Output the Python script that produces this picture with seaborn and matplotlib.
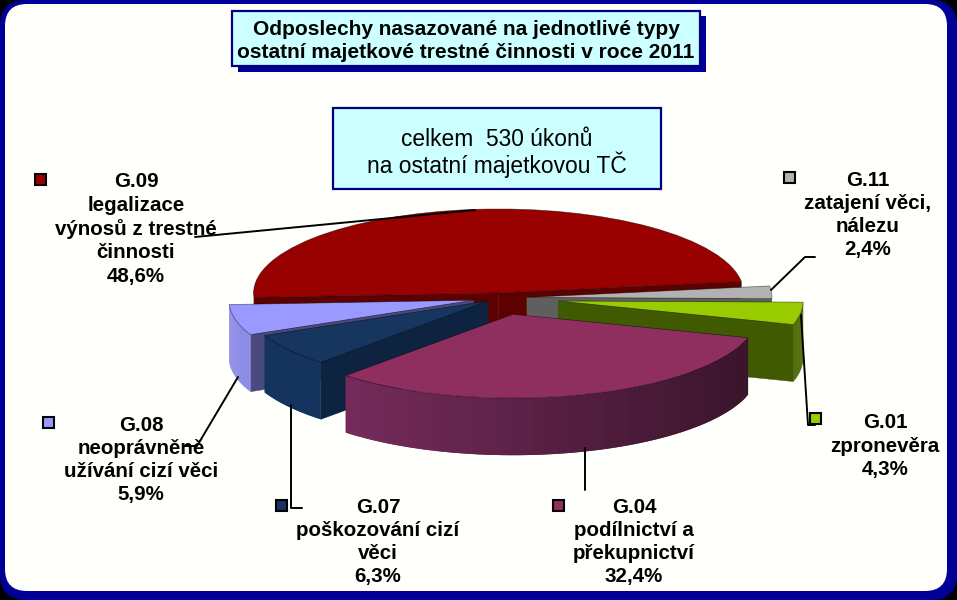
import numpy as np
import matplotlib
matplotlib.use("Agg")
import matplotlib.pyplot as plt
from matplotlib.patches import FancyBboxPatch, Rectangle
import seaborn as sns

# data
codes = ['G.09', 'G.11', 'G.01', 'G.04', 'G.07', 'G.08']
names = ['legalizace\nvýnosů z trestné\nčinnosti', 'zatajení věci,\nnálezu', 'zpronevěra',
         'podílnictví a\npřekupnictví', 'poškozování cizí\nvěci', 'neoprávněně\nužívání cizí věci']
values = [48.6, 2.4, 4.3, 32.4, 6.3, 5.9]
title_lines = 'Odposlechy nasazované na jednotlivé typy\nostatní majetkové trestné činnosti v roce 2011'
total_lines = 'celkem  530 úkonů\nna ostatní majetkovou TČ'

# styling
top_colors = ['#990000', '#b2b2b2', '#99cc00', '#8f2f60', '#16365f', '#9999ff']
cut_colors = ['#5c0000', '#5f5f5f', '#3f5a00', '#38142a', '#0e2340', '#4a4a80']
rim_light = ['#7a0000', '#8a8a8a', '#5f8000', '#802f63', '#14345e', '#8c8ce8']
rim_dark = ['#5c0000', '#6a6a6a', '#4a6500', '#38142a', '#14345e', '#8080dc']
explode = [0.06, 0.11, 0.24, 0.2, 0.06, 0.11]
draw_order = [0, 1, 2, 5, 4, 3]

# pie ellipse in pixels
cx, cy = 500, 298
rx, ry = 245, 84
depth = 57 / ry

# label layout: key square, text centre, text middle y
key_pos = [(40, 179), (789, 177), (815, 418), (558, 505), (281, 505), (48, 422)]
text_pos = [(136, 229), (868, 215), (885, 446), (634, 542), (378, 542), (141, 460)]
leaders = [[(195, 237), (475, 210)],
           [(815, 257), (805, 257), (771, 290)],
           [(801, 315), (808, 425), (815, 425)],
           [(585, 448), (585, 490)],
           [(291, 405), (291, 508), (302, 508)],
           [(238, 377), (197, 446), (185, 446)]]

sns.set_theme(style='white')
plt.rcParams['font.family'] = ['Liberation Sans', 'DejaVu Sans']

fig = plt.figure(figsize=(9.57, 6), dpi=100, facecolor='black')

# background and boxes, pixel coordinates
bg = fig.add_axes([0, 0, 1, 1], zorder=0)
bg.set_xlim(0, 957)
bg.set_ylim(600, 0)
bg.axis('off')
bg.add_patch(FancyBboxPatch((0, 0), 957, 600, boxstyle='round,pad=0,rounding_size=26',
                            fc='#000099', ec='none'))
bg.add_patch(FancyBboxPatch((5, 4), 942, 587, boxstyle='round,pad=0,rounding_size=22',
                            fc='#fffffc', ec='none'))

# exploded pie, unit circle stretched to the ellipse
ax = fig.add_axes([0, 0, 1, 1], zorder=1)
ax.patch.set_alpha(0)
wedges, _ = ax.pie(values, explode=explode, startangle=183, counterclock=False,
                   colors=sns.color_palette(top_colors), radius=1,
                   wedgeprops={'linewidth': 0.5, 'edgecolor': '#00000088'})
ax.set_aspect('auto')
ax.set_xlim(-cx / rx, (957 - cx) / rx)
ax.set_ylim((cy - 600) / ry, cy / ry)
ax.axis('off')


def draw_sides(w, k, z):
    ax0, ay0 = w.center
    t1, t2 = np.radians(w.theta1), np.radians(w.theta2)
    mid = (t1 + t2) / 2
    # flat cut faces, only those turned to the viewer
    for t in (t1, t2):
        ex, ey = np.cos(t), np.sin(t)
        nx, ny = ey, -ex
        if nx * np.cos(mid) + ny * np.sin(mid) > 0:
            ny = -ny
        if ny < 0:
            ax.fill([ax0, ax0 + ex, ax0 + ex, ax0],
                    [ay0, ay0 + ey, ay0 + ey - depth, ay0 - depth],
                    fc=cut_colors[k], ec=cut_colors[k], lw=0.3, zorder=z)
    # outer rim, in small steps for the shading, each step overlaps the next
    shades = sns.blend_palette([rim_light[k], rim_dark[k]], n_colors=40)
    steps = np.linspace(t2, t1, 60)
    for n in range(len(steps) - 1):
        a = steps[n]
        b = steps[min(n + 2, len(steps) - 1)]
        m = (steps[n] + steps[n + 1]) / 2
        if np.sin(m) >= 0:
            continue
        s = shades[int((np.cos(m) + 1) / 2 * 39)]
        arc = np.linspace(a, b, 4)
        ax.fill(np.r_[ax0 + np.cos(arc), ax0 + np.cos(arc[::-1])],
                np.r_[ay0 + np.sin(arc), ay0 + np.sin(arc[::-1]) - depth],
                fc=s, ec='none', zorder=z + 0.1 + n * 0.001)


for order, k in enumerate(draw_order):
    draw_sides(wedges[k], k, order + 1)
    wedges[k].set_zorder(order + 1.5)

# text and leaders on top
fg = fig.add_axes([0, 0, 1, 1], zorder=2)
fg.patch.set_alpha(0)
fg.set_xlim(0, 957)
fg.set_ylim(600, 0)
fg.axis('off')

for seg in leaders:
    fg.plot([p[0] for p in seg], [p[1] for p in seg], color='black', lw=1.4)

fg.add_patch(Rectangle((238, 16), 468, 56, fc='#000099', ec='none'))
fg.add_patch(Rectangle((232, 11), 468, 55, fc='#ccffff', ec='#000080', lw=1.6))
fg.text(466, 41, title_lines, ha='center', va='center', fontsize=15, fontweight='bold',
        color='black', linespacing=1.33)

fg.add_patch(Rectangle((333, 108), 328, 81, fc='#ccffff', ec='#000080', lw=1.6))
fg.text(497, 153, total_lines, ha='center', va='center', fontsize=16.4, color='black', linespacing=1.05)

for i, code in enumerate(codes):
    kx, ky = key_pos[i]
    fg.add_patch(Rectangle((kx - 5.5, ky - 5.5), 11, 11, fc=top_colors[i], ec='black', lw=1.5))
    label = f"{code}\n{names[i]}\n{values[i]:.1f}%".replace('.', ',')
    label = label.replace('G,', 'G.')
    fg.text(text_pos[i][0], text_pos[i][1], label, ha='center', va='center', fontsize=14.8,
            fontweight='bold', color='black', linespacing=1.28)

plt.savefig('out.png', dpi=100, facecolor='black')
